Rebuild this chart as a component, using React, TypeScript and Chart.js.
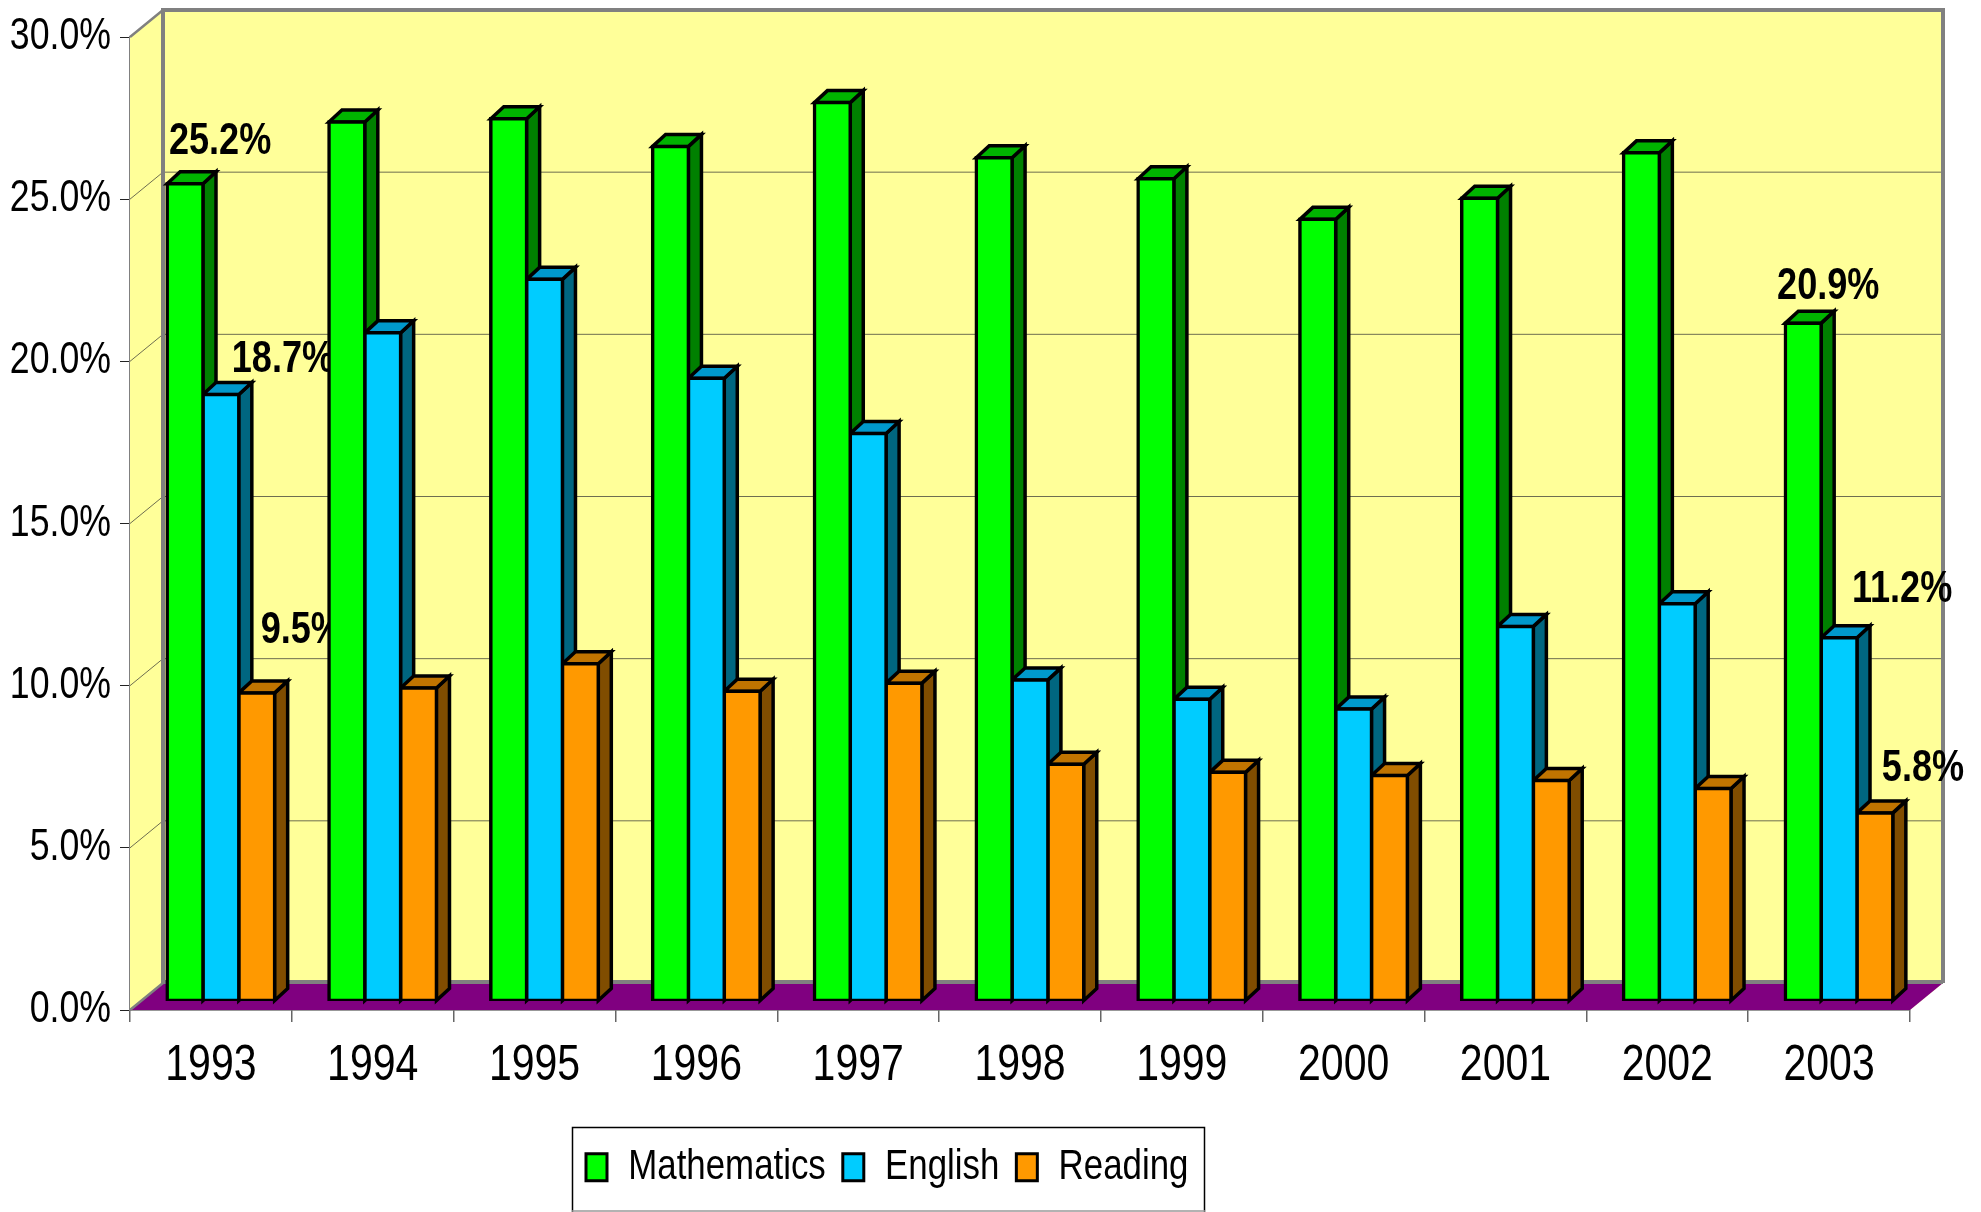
import React, { useEffect, useRef } from "react";
import { Chart, registerables } from "chart.js";

Chart.register(...registerables);

const years = ["1993", "1994", "1995", "1996", "1997", "1998", "1999", "2000", "2001", "2002", "2003"];
const mathematics = [25.2, 27.1, 27.2, 26.35, 27.7, 26.0, 25.35, 24.1, 24.75, 26.15, 20.9];
const english = [18.7, 20.6, 22.25, 19.2, 17.5, 9.9, 9.3, 9.0, 11.55, 12.25, 11.2];
const reading = [9.5, 9.65, 10.4, 9.55, 9.8, 7.3, 7.05, 6.95, 6.8, 6.55, 5.8];

const FONT = '"Liberation Sans", Arial, sans-serif';
const NARROW = 0.82;
const BORDER = 3.5;
const WALL_DX = 33;
const WALL_DY = -27;
const BAR_DX = 10;
const BAR_DY = -9;
const SIDE_DX = 13;
const SIDE_DY = -12;
const sideColors = ["#008000", "#006680", "#804D00"];
const topColors = ["#00B400", "#0099CC", "#C07400"];
// [dataset, year index, label offset x, label offset y]
const annotated = [
  [0, 0, 35, -42], [1, 0, 62, -35], [2, 0, 45, -62],
  [0, 10, 25, -36], [1, 10, 63, -48], [2, 10, 48, -44],
];

// The reference type is a condensed face; none is installed, so text is narrowed horizontally.
const condense = (ctx: any) => {
  const fill = ctx.fillText.bind(ctx);
  const measure = ctx.measureText.bind(ctx);
  ctx.fillText = (t: string, x: number, y: number) => {
    ctx.save();
    ctx.translate(x, y);
    ctx.scale(NARROW, 1);
    fill(t, 0, 0);
    ctx.restore();
  };
  ctx.measureText = (t: string) => ({ width: measure(t).width * NARROW });
};

const poly = (ctx: CanvasRenderingContext2D, pts: number[][], fill?: string, stroke?: string, lw = 1) => {
  ctx.beginPath();
  pts.forEach(([x, y], i) => (i ? ctx.lineTo(x, y) : ctx.moveTo(x, y)));
  ctx.closePath();
  if (fill) { ctx.fillStyle = fill; ctx.fill(); }
  if (stroke) { ctx.strokeStyle = stroke; ctx.lineWidth = lw; ctx.lineJoin = "miter"; ctx.stroke(); }
};

const chart3d = {
  id: "chart3d",
  afterLayout(chart: any) {
    const lg = chart.legend;
    lg.left = 569;
    lg.right = 1981;
    lg.top = 1172 - 17 - 26;
  },
  beforeDatasetsDraw(chart: any) {
    const { ctx, chartArea: a, scales } = chart;
    const l = a.left, r = a.right, t = a.top, b = a.bottom;
    const bl = l + WALL_DX, br = r + WALL_DX, bt = t + WALL_DY, bb = b + WALL_DY;
    ctx.save();
    poly(ctx, [[l, t], [bl, bt], [br, bt], [br, bb], [r, b], [l, b]], "#FFFF99");
    // gridlines on side and back walls
    ctx.strokeStyle = "#6E6E50";
    ctx.lineWidth = 1;
    for (const tk of scales.y.ticks) {
      if (tk.value === 0 || tk.value === 30) continue;
      const y = scales.y.getPixelForValue(tk.value);
      ctx.beginPath();
      ctx.moveTo(l, y);
      ctx.lineTo(bl, y + WALL_DY);
      ctx.lineTo(br, y + WALL_DY);
      ctx.stroke();
    }
    poly(ctx, [[l, b], [bl, bb], [br, bb], [r, b]], "#800080");
    // wall frame
    ctx.strokeStyle = "#808080";
    ctx.lineWidth = 4;
    ctx.beginPath();
    ctx.moveTo(bl, bb); ctx.lineTo(bl, bt); ctx.lineTo(br, bt); ctx.lineTo(br, bb);
    ctx.stroke();
    ctx.beginPath();
    ctx.moveTo(bl, bb - 1); ctx.lineTo(br, bb - 1);
    ctx.stroke();
    ctx.lineWidth = 2.5;
    ctx.beginPath();
    ctx.moveTo(l, t); ctx.lineTo(bl, bt);
    ctx.moveTo(l, b); ctx.lineTo(bl, bb);
    ctx.stroke();
    ctx.restore();

    // data labels sit behind the bars
    ctx.save();
    ctx.font = `bold 44px ${FONT}`;
    ctx.textAlign = "center";
    ctx.textBaseline = "middle";
    ctx.fillStyle = "#000";
    for (const [ds, idx, ox, oy] of annotated) {
      const el = chart.getDatasetMeta(ds).data[idx];
      const v = chart.data.datasets[ds].data[idx];
      ctx.fillText(`${v.toFixed(1)}%`, el.x + BAR_DX + ox, el.y + BAR_DY + oy);
    }
    ctx.restore();

    // shift bars onto their plane, and draw their depth faces
    ctx.save();
    ctx.translate(BAR_DX, BAR_DY);
    chart.data.datasets.forEach((_: any, ds: number) => {
      chart.getDatasetMeta(ds).data.forEach((el: any) => {
        const p = el.getProps(["x", "y", "base", "width"], true);
        const x0 = p.x - p.width / 2, x1 = p.x + p.width / 2;
        poly(ctx, [[x1, p.y], [x1 + SIDE_DX, p.y + SIDE_DY], [x1 + SIDE_DX, p.base + SIDE_DY], [x1, p.base]], sideColors[ds], "#000", BORDER);
        poly(ctx, [[x0, p.y], [x0 + SIDE_DX, p.y + SIDE_DY], [x1 + SIDE_DX, p.y + SIDE_DY], [x1, p.y]], topColors[ds], "#000", BORDER);
      });
    });
  },
  afterDatasetsDraw(chart: any) {
    chart.ctx.restore();
  },
  afterDraw(chart: any) {
    const { ctx } = chart;
    ctx.save();
    ctx.strokeStyle = "#000";
    ctx.lineWidth = 1.5;
    ctx.beginPath();
    ctx.moveTo(572.5, 1212); ctx.lineTo(572.5, 1127.5); ctx.lineTo(1204.5, 1127.5); ctx.lineTo(1204.5, 1212);
    ctx.stroke();
    ctx.strokeStyle = "#999";
    ctx.beginPath();
    ctx.moveTo(572, 1211); ctx.lineTo(1205, 1211);
    ctx.stroke();
    ctx.restore();
  },
};

export default function App() {
  const ref = useRef<HTMLCanvasElement>(null);
  useEffect(() => {
    condense(ref.current!.getContext("2d"));
    const series = [
      { label: "Mathematics", data: mathematics, backgroundColor: "#00FF00" },
      { label: "English", data: english, backgroundColor: "#00CCFF" },
      { label: "Reading", data: reading, backgroundColor: "#FF9900" },
    ];
    const chart = new Chart(ref.current!, {
      type: "bar",
      data: {
        labels: years,
        datasets: series.map((s) => ({
          ...s,
          borderColor: "#000",
          borderWidth: BORDER,
          inflateAmount: BORDER / 2,
          borderSkipped: false,
          barPercentage: 1,
          categoryPercentage: 107.5 / 161.8,
        })),
      },
      plugins: [chart3d],
      options: {
        responsive: false,
        animation: false,
        layout: { padding: { top: 37, right: 71, left: 0, bottom: 0 } },
        plugins: {
          tooltip: { enabled: false },
          legend: {
            position: "bottom",
            align: "start",
            labels: {
              font: { family: FONT, size: 42.5 },
              color: "#000",
              boxWidth: 21,
              boxHeight: 27,
              padding: 17,
              generateLabels: (c: any) =>
                c.data.datasets.map((d: any, i: number) => ({
                  text: d.label, fillStyle: d.backgroundColor, strokeStyle: "#000", lineWidth: 3, datasetIndex: i, fontColor: "#000",
                })),
            },
          },
        },
        scales: {
          x: {
            afterFit: (s: any) => { s.height = 202 - s.chart.legend.height; },
            border: { color: "#333", width: 1.5 },
            grid: { drawOnChartArea: false, drawTicks: true, tickLength: 12, color: "#666", lineWidth: 1.5, offset: true },
            ticks: { font: { family: FONT, size: 50 }, color: "#000", padding: 14, maxRotation: 0 },
          },
          y: {
            min: 0,
            max: 30,
            afterFit: (s: any) => { s.width = 130; },
            border: { color: "#808080", width: 2 },
            grid: { drawOnChartArea: false, drawTicks: true, tickLength: 10, color: "#222", lineWidth: 1 },
            ticks: { stepSize: 5, font: { family: FONT, size: 43.5 }, color: "#000", padding: 9, callback: (v: any) => `${Number(v).toFixed(1)}%` },
          },
        },
      },
    } as any);
    return () => chart.destroy();
  }, []);
  return (
    <div style={{ position: "absolute", left: 0, top: 0, width: 1981, height: 1212, background: "#fff" }}>
      <canvas ref={ref} width={1981} height={1212} style={{ display: "block" }} />
    </div>
  );
}
